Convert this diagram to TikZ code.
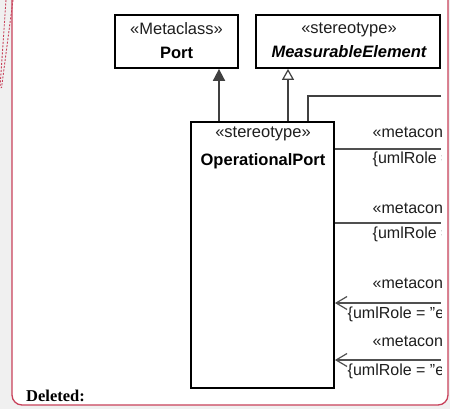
\documentclass[tikz,border=0pt]{standalone}
\usepackage{fontspec}
\setmainfont{Liberation Sans}
\newfontfamily\notefont{Liberation Serif}
\usetikzlibrary{arrows.meta}

\definecolor{pagegray}{HTML}{F0F0F0}
\definecolor{markup}{HTML}{C8415A}
\definecolor{edge}{HTML}{404040}
\definecolor{linkgray}{HTML}{505050}
\definecolor{ink}{HTML}{1E1E1E}

\begin{document}
\begin{tikzpicture}[x=1pt,y=-1pt,
  umlbox/.style={draw=black, line width=1.8pt, fill=white, inner sep=0pt},
  lbl/.style={font=\fontsize{16}{19}\selectfont, text=ink, inner sep=0pt},
  boxlbl/.style={lbl, font=\fontsize{16.5}{19}\selectfont},
  namelbl/.style={lbl, font=\fontsize{16.5}{19}\selectfont\bfseries, text=black},
  gen/.style={draw=edge, line width=1.8pt},
  metalink/.style={draw=linkgray, line width=1.2pt},
  openbarb/.style={{Straight Barb[length=11pt,width=13pt]}-},
]
\useasboundingbox (0,0) rectangle (450,409);
\clip (0,0) rectangle (450,409);

% page and comment frame
\fill[pagegray] (0,0) rectangle (450,409);
\draw[markup, line width=1.3pt, fill=white, rounded corners=10pt]
  (12,-20) -- (12,405) -- (448,405) -- (448,-20);
\draw[markup, line width=0.9pt, dash pattern=on 2pt off 1.5pt] (6,0) -- (0,88);
\draw[markup, line width=0.9pt, dash pattern=on 2pt off 1.5pt] (13,0) -- (1.5,88);

\begin{scope}
\clip (12,0) rectangle (441,405);

% classes
\node[umlbox, minimum width=123pt, minimum height=53pt] (port) at (176.5,41.5) {};
\node[umlbox, minimum width=184pt, minimum height=53pt] (meas) at (348,41.5) {};
\node[umlbox, minimum width=143pt, minimum height=266pt] (opport) at (262.5,255) {};

\node[boxlbl, anchor=base] (portst) at (176.5,35) {«Metaclass»};
\node[namelbl, anchor=base] (portnm) at (176.5,59) {Port};
\node[boxlbl, anchor=base] (measst) at (349,34) {«stereotype»};
\node[namelbl, anchor=base, font=\fontsize{16.5}{19}\selectfont\bfseries\itshape] (measnm) at (349,58) {MeasurableElement};
\node[boxlbl, anchor=base] (opst) at (263,138) {«stereotype»};
\node[namelbl, anchor=base] (opnm) at (263,165) {OperationalPort};

% generalizations and extension
\coordinate (gport) at (219,0);
\coordinate (gmeas) at (288,0);
\coordinate (gself) at (308,96);
\coordinate (redge) at (441,0);
\draw[gen, -{Triangle[length=12pt,width=12pt]}] (opport.north -| gport) -- (port.south -| gport);
\draw[gen, -{Triangle[open, fill=white, line width=1.2pt, length=11pt, width=12pt]}]
  (opport.north -| gmeas) -- (meas.south -| gmeas);
\draw[gen] (opport.north -| gself) |- (redge |- gself);

% metaconstraint links
\coordinate (c1) at (441,149);
\coordinate (c2) at (441,223);
\coordinate (c3) at (441,303);
\coordinate (c4) at (441,360);
\draw[metalink] (opport.east |- c1) -- (c1);
\draw[metalink] (opport.east |- c2) -- (c2);
\draw[metalink, openbarb] (opport.east |- c3) -- (c3);
\draw[metalink, openbarb] (opport.east |- c4) -- (c4);

\node[lbl, anchor=base west] (m1) at (372.5,138) {«metaconstraint»};
\node[lbl, anchor=base west] (r1) at (372.5,163.5) {\{umlRole = "end"\}};
\node[lbl, anchor=base west] (m2) at (372.5,213) {«metaconstraint»};
\node[lbl, anchor=base west] (r2) at (372.5,238.5) {\{umlRole = "end"\}};
\node[lbl, anchor=base west] (m3) at (372.5,288) {«metaconstraint»};
\node[lbl, anchor=base west] (r3) at (347.5,318) {\{umlRole = "end"\}};
\node[lbl, anchor=base west] (m4) at (372.5,346) {«metaconstraint»};
\node[lbl, anchor=base west] (r4) at (347.5,375) {\{umlRole = "end"\}};
\end{scope}

\node[anchor=base west, inner sep=0pt, font=\notefont\bfseries\fontsize{16.5}{19}\selectfont] (del) at (26,401.5) {Deleted:};
\end{tikzpicture}
\end{document}
